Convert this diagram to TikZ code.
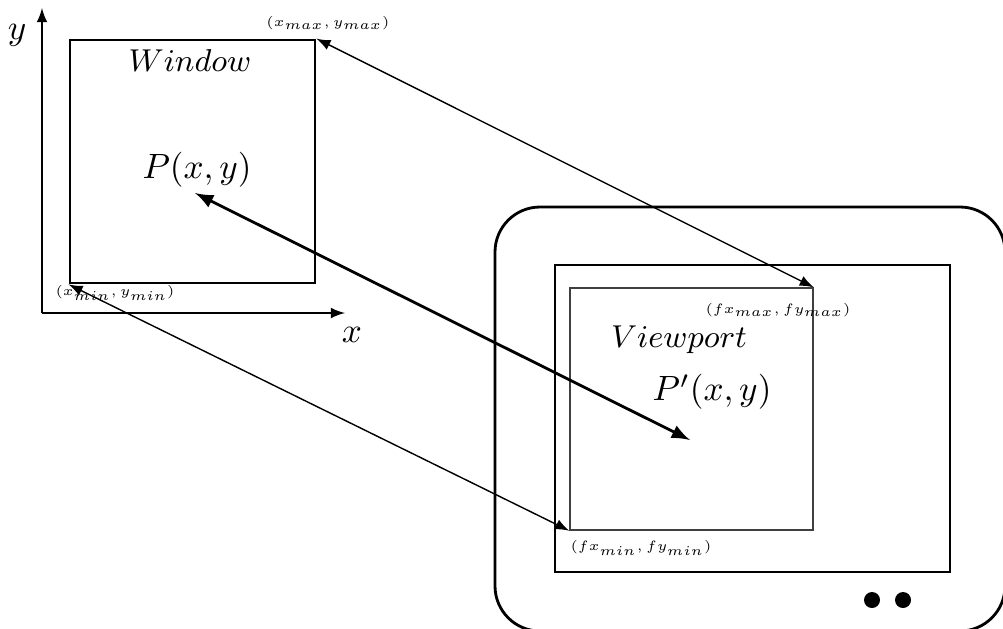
\documentclass[tikz,border=0pt]{standalone}
\usetikzlibrary{arrows}
\begin{document}
\begin{tikzpicture}[>=latex,
        frame/.style={draw, thick, inner sep=0pt},
        title/.style={font=\small},
        corner/.style={font=\tiny, scale=0.77, transform shape}]
    \useasboundingbox (0,0) rectangle (10.03,6.28);
    % axes
    \coordinate (o) at (0.42,3.15);
    \draw[->] (o) -- (0.42,6.20);
    \draw[->] (o) -- (3.45,3.15);
    \node (ylabel) at (0.17,5.93) {$y$};
    \node (xlabel) at (3.52,2.93) {$x$};
    % window
    \node[frame, minimum width=2.45cm, minimum height=2.43cm] (window) at (1.925,4.665) {};
    \node[title] (wlabel) at (1.90,5.67) {$Window$};
    \node (p) at (1.97,4.58) {$P(x,y)$};
    \node[corner] (wmax) at (3.28,6.05) {$(x_{max},y_{max})$};
    \node[corner] (wmin) at (1.15,3.35) {$(x_{min},y_{min})$};
    % monitor
    \node[frame, rounded corners=0.45cm, minimum width=5.10cm, minimum height=4.24cm] (monitor) at (7.50,2.09) {};
    \node[frame, minimum width=3.95cm, minimum height=3.07cm] (screen) at (7.525,2.095) {};
    \node[draw, black!75, inner sep=0pt, minimum width=2.43cm, minimum height=2.42cm] (viewport) at (6.915,2.19) {};
    \node[title] (vlabel) at (6.79,2.88) {$Viewport$};
    \node (pp) at (7.12,2.36) {$P'(x,y)$};
    \node[corner] (vmax) at (7.78,3.18) {$(fx_{max},fy_{max})$};
    \node[corner] (vmin) at (6.41,0.80) {$(fx_{min},fy_{min})$};
    \foreach \x in {8.72,9.03}
        \fill (\x,0.28) circle (0.08);
    % mapping
    \coordinate (pw) at (1.95,4.35);
    \coordinate (pv) at (6.90,1.88);
    \draw[<->] (window.north east) -- (viewport.north east);
    \draw[<->] (window.south west) -- (viewport.south west);
    \draw[<->, thick] (pw) -- (pv);
\end{tikzpicture}
\end{document}
